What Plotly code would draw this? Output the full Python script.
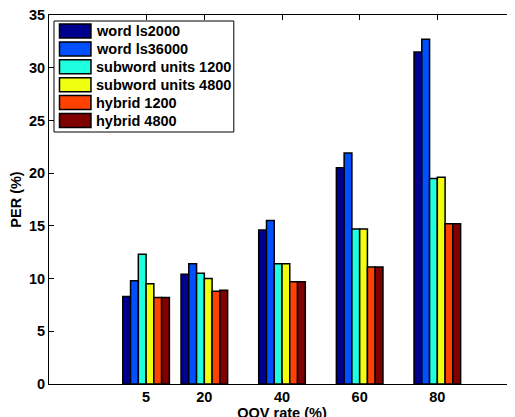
import plotly.graph_objects as go

oov_rates = [5, 20, 40, 60, 80]
series_names = ["word ls2000", "word ls36000", "subword units 1200",
                "subword units 4800", "hybrid 1200", "hybrid 4800"]
word_ls2000 = [8.3, 10.4, 14.6, 20.5, 31.5]
word_ls36000 = [9.8, 11.4, 15.5, 21.9, 32.7]
subword_1200 = [12.3, 10.5, 11.4, 14.7, 19.5]
subword_4800 = [9.5, 10.0, 11.4, 14.7, 19.6]
hybrid_1200 = [8.2, 8.8, 9.7, 11.1, 15.2]
hybrid_4800 = [8.2, 8.9, 9.7, 11.1, 15.2]
y_ticks = [0, 5, 10, 15, 20, 25, 30, 35]

series_values = [word_ls2000, word_ls36000, subword_1200,
                 subword_4800, hybrid_1200, hybrid_4800]
colors = ["#000090", "#0050FF", "#1EFFE0", "#F0FF10", "#FF4200", "#800000"]

FONT = "Liberation Sans, Arial, Helvetica, sans-serif"
FS = 14.5

fig = go.Figure()
for name, vals, col in zip(series_names, series_values, colors):
    fig.add_trace(go.Bar(
        x=oov_rates, y=vals, name=name,
        marker=dict(color=col, line=dict(color="black", width=1.5)),
    ))

# plot area in page pixels
PX_L, PX_R, PX_T, PX_B = 49.0, 515.5, 15.0, 384.0


def px_x(p):
    return (p - PX_L) / (PX_R - PX_L)


def px_y(p):
    return (PX_B - p) / (PX_B - PX_T)


shapes = []
annotations = []
shapes.append(dict(type="rect", xref="paper", yref="paper",
                   x0=px_x(54), x1=px_x(234), y0=px_y(132), y1=px_y(21),
                   line=dict(color="black", width=1), fillcolor="white", layer="above"))
row_h = 17.9
for i, (name, col) in enumerate(zip(series_names, colors)):
    top = 24 + i * row_h
    shapes.append(dict(type="rect", xref="paper", yref="paper",
                       x0=px_x(59.5), x1=px_x(91), y0=px_y(top + 14), y1=px_y(top),
                       line=dict(color="black", width=1.5), fillcolor=col, layer="above"))
    annotations.append(dict(xref="paper", yref="paper", x=px_x(94), y=px_y(top + 7.5),
                            xanchor="left", yanchor="middle", showarrow=False,
                            text=name,
                            font=dict(family=FONT, size=FS, color="black", weight="bold")))

fig.update_layout(
    width=515, height=417,
    margin=dict(l=41, r=8, t=7, b=41, autoexpand=False),
    plot_bgcolor="white", paper_bgcolor="white",
    barmode="group", bargap=0.2, bargroupgap=0,
    font=dict(family=FONT, size=FS, color="black", weight="bold"),
    showlegend=False,
    shapes=shapes,
    annotations=annotations,
    xaxis=dict(
        range=[-20, 100], tickmode="array", tickvals=oov_rates,
        ticktext=[str(v) for v in oov_rates],
        ticks="inside", ticklen=5, tickcolor="black",
        showline=True, linecolor="black", linewidth=1, mirror="ticks",
        showgrid=False, zeroline=False, automargin=False,
        ticklabeloverflow="allow",
        tickfont=dict(family=FONT, size=FS, color="black", weight="bold"),
        title=dict(text="OOV rate (%)", standoff=3,
                   font=dict(family=FONT, size=FS, color="black", weight="bold")),
    ),
    yaxis=dict(
        range=[0, 35], tickmode="array", tickvals=y_ticks,
        ticks="inside", ticklen=5, tickcolor="black",
        showline=True, linecolor="black", linewidth=1, mirror="ticks",
        showgrid=False, zeroline=False, automargin=False,
        ticklabeloverflow="allow",
        tickfont=dict(family=FONT, size=FS, color="black", weight="bold"),
        title=dict(text="PER (%)", standoff=6,
                   font=dict(family=FONT, size=FS, color="black", weight="bold")),
    ),
)

fig.write_html("out.html")
